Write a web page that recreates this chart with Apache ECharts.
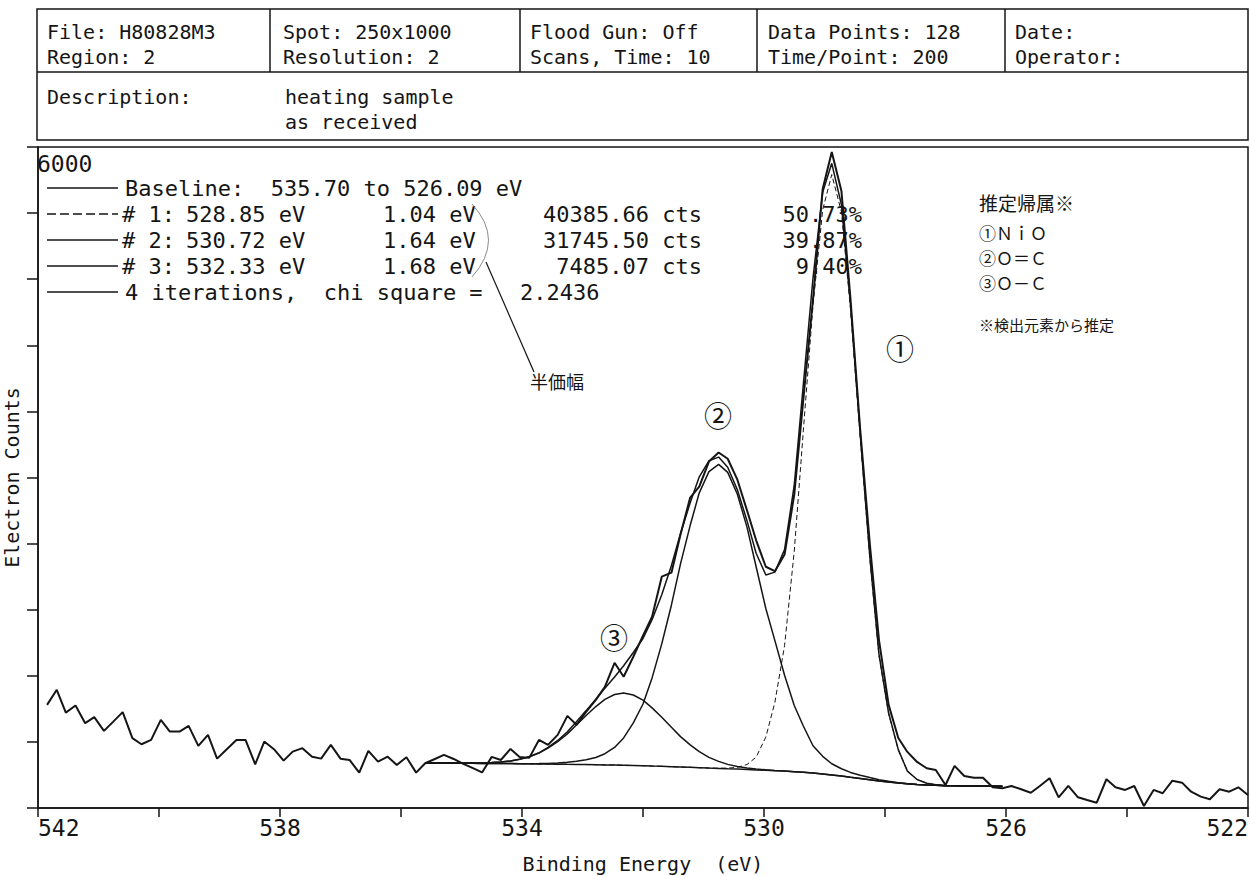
<!DOCTYPE html>
<html>
<head>
<meta charset="utf-8">
<title>XPS O1s</title>
<script src="https://cdn.jsdelivr.net/npm/echarts@6/dist/echarts.min.js"></script>
<style>
  html, body { margin: 0; padding: 0; background: #fff; }
  #chart { width: 1250px; height: 876px; }
</style>
</head>
<body>
<div id="chart"></div>
<script>
// binding energy of each of the 128 channels (eV)
const energy = [
  541.85, 541.69, 541.54, 541.38, 541.22, 541.07, 540.91, 540.76, 540.60, 540.44,
  540.29, 540.13, 539.97, 539.82, 539.66, 539.51, 539.35, 539.19, 539.04, 538.88,
  538.72, 538.57, 538.41, 538.26, 538.10, 537.94, 537.79, 537.63, 537.47, 537.32,
  537.16, 537.00, 536.85, 536.69, 536.54, 536.38, 536.22, 536.07, 535.91, 535.75,
  535.60, 535.44, 535.29, 535.13, 534.97, 534.82, 534.66, 534.50, 534.35, 534.19,
  534.04, 533.88, 533.72, 533.57, 533.41, 533.25, 533.10, 532.94, 532.78, 532.63,
  532.47, 532.32, 532.16, 532.00, 531.85, 531.69, 531.53, 531.38, 531.22, 531.07,
  530.91, 530.75, 530.60, 530.44, 530.28, 530.13, 529.97, 529.82, 529.66, 529.50,
  529.35, 529.19, 529.03, 528.88, 528.72, 528.57, 528.41, 528.25, 528.10, 527.94,
  527.78, 527.63, 527.47, 527.31, 527.16, 527.00, 526.85, 526.69, 526.53, 526.38,
  526.22, 526.06, 525.91, 525.75, 525.59, 525.44, 525.28, 525.13, 524.97, 524.81,
  524.66, 524.50, 524.34, 524.19, 524.03, 523.88, 523.72, 523.56, 523.41, 523.25,
  523.09, 522.94, 522.78, 522.63, 522.47, 522.31, 522.16, 522.00
];

// measured electron counts
const counts = [
  936, 1073, 866, 930, 770, 825, 700, 782, 870, 634,
  579, 618, 800, 694, 694, 745, 564, 664, 448, 534,
  618, 618, 397, 603, 534, 430, 512, 543, 466, 448,
  573, 448, 436, 321, 518, 421, 466, 391, 461, 321,
  406, 445, 482, 445, 400, 364, 323, 464, 436, 536,
  464, 455, 618, 573, 664, 836, 755, 873, 982, 1100,
  1318, 1191, 1373, 1564, 1736, 2100, 2136, 2482, 2818, 2918,
  3145, 3227, 3170, 2980, 2700, 2430, 2190, 2150, 2300, 2845,
  3709, 4618, 5618, 5955, 5600, 4618, 3436, 2391, 1527, 936,
  636, 509, 418, 361, 345, 209, 382, 291, 275, 275,
  188, 179, 200, 170, 139, 200, 270, 97, 200, 97,
  73, 48, 261, 188, 164, 200, 18, 164, 134, 248,
  230, 148, 103, 79, 170, 148, 188, 118
];

// fitted curves, channels 535.60 .. 526.06 eV
const fitEnergy = energy.slice(40, 102);

const baseline = [
  409, 409, 408, 408, 407, 406, 405, 405, 404, 403,
  402, 401, 400, 399, 398, 396, 395, 394, 393, 391,
  390, 388, 386, 384, 381, 378, 375, 372, 369, 366,
  362, 359, 356, 353, 350, 346, 343, 339, 335, 330,
  324, 317, 309, 300, 290, 279, 268, 257, 246, 236,
  227, 220, 214, 209, 206, 203, 201, 200, 199, 198,
  198, 197
];

const peak3 = [
  409, 409, 408, 408, 407, 408, 409, 413, 418, 427,
  442, 465, 498, 544, 602, 672, 753, 840, 921, 986,
  1030, 1043, 1026, 979, 909, 824, 733, 648, 573, 511,
  460, 423, 396, 377, 364, 354, 347, 341, 335, 330,
  324, 317, 309, 300, 290, 279, 268, 257, 246, 236,
  227, 220, 214, 209, 206, 203, 201, 200, 199, 198,
  198, 197
];

const peak2 = [
  409, 409, 408, 408, 407, 406, 405, 405, 404, 403,
  402, 401, 403, 405, 409, 415, 425, 438, 459, 493,
  550, 636, 772, 944, 1181, 1490, 1843, 2216, 2566, 2861,
  3053, 3119, 3047, 2848, 2547, 2190, 1811, 1519, 1205, 930,
  744, 565, 469, 402, 356, 323, 298, 276, 257, 242,
  230, 220, 214, 209, 206, 203, 201, 200, 199, 198,
  198, 197
];

const peak1 = [
  409, 409, 408, 408, 407, 406, 405, 405, 404, 403,
  402, 401, 400, 399, 398, 396, 395, 394, 393, 391,
  390, 388, 386, 384, 381, 378, 375, 372, 369, 366,
  362, 361, 362, 369, 395, 461, 643, 959, 1475, 2330,
  3424, 4562, 5429, 5750, 5410, 4524, 3368, 2257, 1386, 856,
  527, 335, 259, 225, 212, 205, 201, 200, 199, 198,
  198, 197
];

const envelope = [
  409, 409, 408, 408, 407, 408, 409, 413, 418, 427,
  442, 465, 501, 550, 613, 691, 783, 884, 987, 1088,
  1190, 1291, 1412, 1539, 1709, 1936, 2201, 2492, 2770, 3006,
  3151, 3185, 3093, 2888, 2606, 2313, 2115, 2141, 2345, 2930,
  3844, 4810, 5589, 5852, 5476, 4568, 3398, 2276, 1397, 862,
  530, 335, 259, 225, 212, 205, 201, 200, 199, 198,
  198, 197
];

// fit report printed in the plot
const peakNames = ['# 1:', '# 2:', '# 3:'];
const peakPos = ['528.85 eV', '530.72 eV', '532.33 eV'];
const peakFwhm = ['1.04 eV', '1.64 eV', '1.68 eV'];
const peakArea = ['40385.66 cts', '31745.50 cts', '7485.07 cts'];
const peakPct = ['50.73%', '39.87%', '9.40%'];

const headerTop = [
  ['File: H80828M3', 'Region: 2'],
  ['Spot: 250x1000', 'Resolution: 2'],
  ['Flood Gun: Off', 'Scans, Time: 10'],
  ['Data Points: 128', 'Time/Point: 200'],
  ['Date:', 'Operator:']
];

const assignLines = ['①ＮｉＯ', '②Ｏ＝Ｃ', '③Ｏ－Ｃ'];

const pairs = (xs, ys) => xs.map((x, i) => [x, ys[i]]);

const MONO = 'DejaVu Sans Mono';
const CJK = '"Noto Sans CJK JP"';
const INK = '#151515';

const colX = [47, 283, 530, 768, 1015];
const colLines = [270, 520, 757, 1005];

const graphic = [];

// header table
graphic.push({ type: 'rect', shape: { x: 37, y: 9, width: 1211, height: 131 }, style: { fill: 'none', stroke: INK, lineWidth: 1.5 } });
graphic.push({ type: 'line', shape: { x1: 37, y1: 72, x2: 1248, y2: 72 }, style: { stroke: INK, lineWidth: 1.5 } });
colLines.forEach(x => {
  graphic.push({ type: 'line', shape: { x1: x, y1: 9, x2: x, y2: 72 }, style: { stroke: INK, lineWidth: 1.5 } });
});
headerTop.forEach((pair, c) => {
  pair.forEach((t, r) => {
    graphic.push({ type: 'text', style: { text: t, x: colX[c], y: 32 + r * 25, font: `20px ${MONO}`, fill: INK, verticalAlign: 'middle' } });
  });
});
graphic.push({ type: 'text', style: { text: 'Description:', x: 47, y: 97, font: `20px ${MONO}`, fill: INK, verticalAlign: 'middle' } });
graphic.push({ type: 'text', style: { text: 'heating sample', x: 285, y: 97, font: `20px ${MONO}`, fill: INK, verticalAlign: 'middle' } });
graphic.push({ type: 'text', style: { text: 'as received', x: 285, y: 122, font: `20px ${MONO}`, fill: INK, verticalAlign: 'middle' } });

// y max label
graphic.push({ type: 'text', style: { text: '6000', x: 37, y: 164, font: `23px ${MONO}`, fill: INK, verticalAlign: 'middle' } });

// fit report lines
const rowY = [188, 214, 240, 266, 292];
rowY.forEach((y, r) => {
  graphic.push({
    type: 'line', shape: { x1: 47, y1: y, x2: 118, y2: y },
    style: { stroke: INK, lineWidth: 1.3, lineDash: r === 1 ? [9, 4] : null }
  });
});
const txt = (text, x, y, align) => ({
  type: 'text', style: { text, x, y, font: `22px ${MONO}`, fill: INK, align: align || 'left', verticalAlign: 'middle' }
});
graphic.push(txt('Baseline:  535.70 to 526.09 eV', 125, rowY[0]));
peakNames.forEach((n, k) => {
  const y = rowY[k + 1];
  graphic.push(txt(n, 122, y));
  graphic.push(txt(peakPos[k], 186, y));
  graphic.push(txt(peakFwhm[k], 383, y));
  graphic.push(txt(peakArea[k], 702, y, 'right'));
  graphic.push(txt(peakPct[k], 862, y, 'right'));
});
graphic.push(txt('4 iterations,  chi square =', 125, rowY[4]));
graphic.push(txt('2.2436', 520, rowY[4]));

// bracket and pointer to the FWHM note
graphic.push({ type: 'bezierCurve', shape: { x1: 472, y1: 204, cpx1: 505, cpy1: 240, x2: 472, y2: 277 }, style: { stroke: '#8a8a8a', lineWidth: 1, fill: 'none' } });
graphic.push({ type: 'line', shape: { x1: 486, y1: 262, x2: 534, y2: 372 }, style: { stroke: INK, lineWidth: 1.2 } });
graphic.push({ type: 'text', style: { text: '半価幅', x: 530, y: 381, font: `18px ${CJK}`, fill: INK, verticalAlign: 'middle' } });

// peak labels
[['①', 900, 348], ['②', 718, 415], ['③', 614, 637]].forEach(([t, x, y]) => {
  graphic.push({ type: 'text', style: { text: t, x, y, font: `28px ${CJK}`, fill: INK, align: 'center', verticalAlign: 'middle' } });
});

// assignment note
graphic.push({ type: 'text', style: { text: '推定帰属※', x: 979, y: 202, font: `19px ${CJK}`, fill: INK, verticalAlign: 'middle' } });
assignLines.forEach((t, k) => {
  graphic.push({ type: 'text', style: { text: t, x: 979, y: 232 + k * 25, font: `17px ${CJK}`, fill: INK, verticalAlign: 'middle' } });
});
graphic.push({ type: 'text', style: { text: '※検出元素から推定', x: 979, y: 324, font: `15px ${CJK}`, fill: INK, verticalAlign: 'middle' } });

const lineSeries = (name, xs, ys, width, dash) => ({
  name, type: 'line', data: pairs(xs, ys), showSymbol: false, silent: true,
  lineStyle: { color: INK, width, type: dash || 'solid' }, z: 3
});

const chart = echarts.init(document.getElementById('chart'), null, { renderer: 'svg' });
chart.setOption({
  animation: false,
  backgroundColor: '#fff',
  grid: {
    left: 38, right: 2, top: 147, bottom: 68,
    outerBoundsMode: 'none', containLabel: false,
    show: true, borderColor: INK, borderWidth: 1.5
  },
  xAxis: {
    type: 'value', min: 522, max: 542, interval: 2, inverse: true,
    name: 'Binding Energy  (eV)', nameLocation: 'middle', nameGap: 46,
    nameTextStyle: { fontFamily: MONO, fontSize: 20, color: INK },
    axisLine: { lineStyle: { color: INK, width: 1.5 } },
    axisTick: { length: 9, lineStyle: { color: INK, width: 1.5 } },
    axisLabel: {
      fontFamily: MONO, fontSize: 23, color: INK, margin: 8,
      alignMinLabel: 'right', alignMaxLabel: 'left',
      formatter: v => (v % 4 === 2 ? String(v) : '')
    },
    splitLine: { show: false }
  },
  yAxis: {
    type: 'value', min: 0, max: 6000, interval: 600,
    name: 'Electron Counts', nameLocation: 'middle', nameGap: 16, nameRotate: 90,
    nameTextStyle: { fontFamily: MONO, fontSize: 20, color: INK },
    axisLine: { show: true, lineStyle: { color: INK, width: 1.5 } },
    axisTick: { show: true, length: 11, lineStyle: { color: INK, width: 1.5 } },
    axisLabel: { show: false },
    splitLine: { show: false }
  },
  graphic,
  series: [
    lineSeries('baseline', fitEnergy, baseline, 1.5),
    lineSeries('peak 3', fitEnergy, peak3, 1.5),
    lineSeries('peak 2', fitEnergy, peak2, 1.5),
    lineSeries('peak 1', fitEnergy, peak1, 1, [5, 3]),
    lineSeries('envelope', fitEnergy, envelope, 1.5),
    lineSeries('counts', energy, counts, 2)
  ]
});
</script>
</body>
</html>
